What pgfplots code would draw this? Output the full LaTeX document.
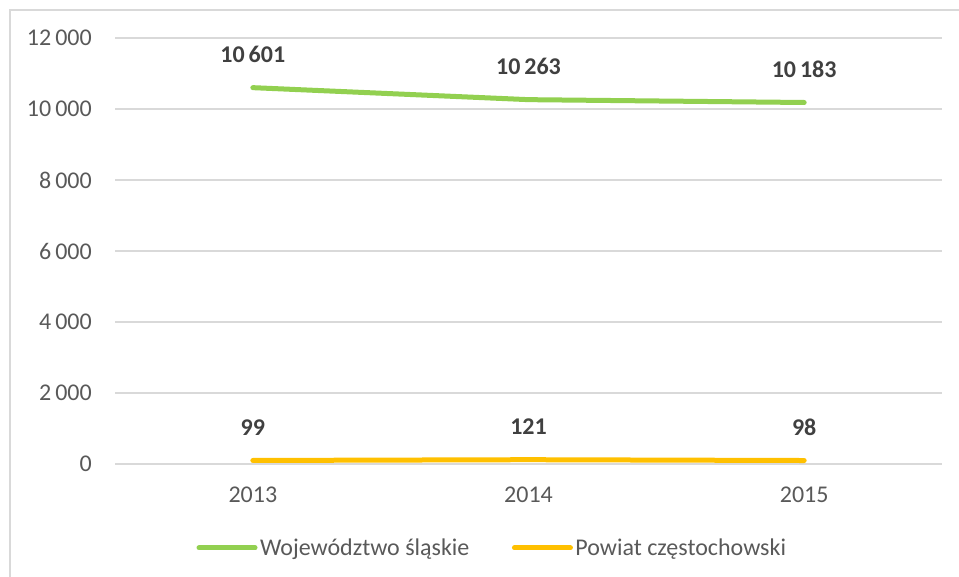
\documentclass[border=0pt]{standalone}
\usepackage{pgfplots}
\pgfplotsset{compat=1.18}
\usepackage{fontspec}
\setmainfont{Carlito}
\definecolor{grn}{HTML}{92D050}
\definecolor{org}{HTML}{FFC000}
\definecolor{gridgray}{HTML}{D9D9D9}
\definecolor{ticktxt}{HTML}{595959}
\definecolor{lbltxt}{HTML}{404040}
\begin{document}
\begin{tikzpicture}
\useasboundingbox (0pt,0pt) rectangle (959pt,577pt);
\draw[gridgray, line width=2pt] (10pt,-20pt) -- (10pt,567pt) -- (980pt,567pt);
\begin{axis}[
  at={(115pt,113pt)}, anchor=south west,
  scale only axis, width=827pt, height=426pt,
  xmin=-0.5, xmax=2.5, ymin=0, ymax=12000,
  xtick={0,1,2}, xticklabels={2013,2014,2015},
  ytick={0,2000,4000,6000,8000,10000,12000},
  yticklabels={0,2\,000,4\,000,6\,000,8\,000,10\,000,12\,000},
  scaled y ticks=false,
  axis line style={draw=none},
  major tick length=0pt,
  ymajorgrids, grid style={color=gridgray, line width=1.2pt},
  tick label style={font=\fontsize{24}{28}\selectfont, color=ticktxt},
  yticklabel style={anchor=east, inner sep=0pt, xshift=-23pt},
  xticklabel style={anchor=center, inner sep=0pt, yshift=-31pt},
  point meta=explicit symbolic,
  nodes near coords,
  nodes near coords style={anchor=center, yshift=33pt, inner sep=0pt,
     font=\fontsize{24}{28}\selectfont\bfseries, color=lbltxt},
  legend style={at={(axis description cs:0.4565,-0.197)}, anchor=center,
     draw=none, fill=none, font=\fontsize{24}{28}\selectfont, text=ticktxt,
     nodes={inner sep=2.5pt}},
  legend columns=2,
  legend cell align=left,
  /tikz/every even column/.append style={column sep=40pt},
  legend image code/.code={\draw[#1] (0pt,0pt) -- (56pt,0pt);},
]
\addplot[grn, line width=5pt, line cap=round] coordinates {(0,10601) [10\,601] (1,10263) [10\,263] (2,10183) [10\,183]};
\addlegendentry{Województwo śląskie}
\addplot[org, line width=5pt, line cap=round] coordinates {(0,99) [99] (1,121) [121] (2,98) [98]};
\addlegendentry{Powiat częstochowski}
\end{axis}
\end{tikzpicture}
\end{document}
